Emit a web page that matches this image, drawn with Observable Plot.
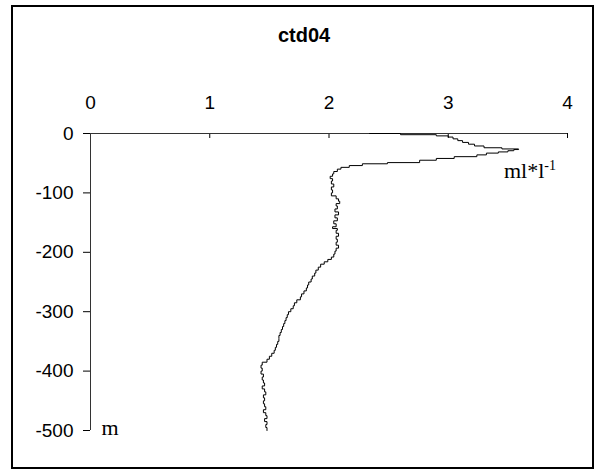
<!DOCTYPE html>
<html>
<head>
<meta charset="utf-8">
<script src="https://cdn.jsdelivr.net/npm/d3@7"></script>
<script src="https://cdn.jsdelivr.net/npm/@observablehq/plot@0.6"></script>
<style>
  html, body { margin: 0; padding: 0; background: #fff; }
  #chart svg { display: block; }
</style>
</head>
<body>
<div id="chart"></div>
<script>
const title = "ctd04";
const xTicks = [0, 1, 2, 3, 4];
const yTicks = [0, -100, -200, -300, -400, -500];
const unitX = "ml*l";
const unitXSup = "-1";
const unitY = "m";

// depth (m, negative downward)
const depth = [0, -2, -4, -6, -9, -12, -15, -18, -21, -24, -26, -27, -29, -31, -33, -36, -39, -42, -45, -49,
  -51, -54, -57, -60, -64, -68, -72, -76, -80, -85, -90, -95, -100, -105, -110, -114, -118, -122, -127, -132,
  -137, -142, -147, -152, -157, -160, -163, -168, -173, -178, -183, -188, -193, -198, -203, -208, -212, -216, -220, -225,
  -230, -235, -240, -245, -250, -255, -260, -265, -270, -275, -280, -285, -290, -295, -300, -305, -310, -315, -320, -325,
  -330, -335, -340, -345, -350, -355, -360, -365, -370, -375, -380, -385, -390, -395, -400, -405, -410, -415, -420, -425,
  -430, -435, -440, -445, -450, -455, -460, -465, -470, -475, -480, -485, -490, -495, -500];
// oxygen (ml*l-1)
const oxygen = [2.34, 2.6, 2.9, 3.00, 3.04, 3.08, 3.12, 3.17, 3.22, 3.30, 3.45, 3.59, 3.55, 3.50, 3.42, 3.32, 3.24, 3.05, 2.90, 2.76,
  2.49, 2.28, 2.17, 2.10, 2.07, 2.04, 2.03, 2.01, 2.03, 2.02, 2.04, 2.02, 2.03, 2.02, 2.06, 2.08, 2.09, 2.06, 2.07, 2.05,
  2.08, 2.05, 2.07, 2.04, 2.06, 2.03, 2.07, 2.06, 2.08, 2.06, 2.07, 2.06, 2.08, 2.06, 2.05, 2.04, 2.02, 1.99, 1.96, 1.93,
  1.91, 1.89, 1.88, 1.86, 1.85, 1.83, 1.82, 1.81, 1.79, 1.77, 1.76, 1.73, 1.71, 1.70, 1.68, 1.66, 1.65, 1.64, 1.63, 1.62,
  1.61, 1.60, 1.59, 1.58, 1.58, 1.57, 1.56, 1.55, 1.54, 1.52, 1.50, 1.48, 1.44, 1.43, 1.44, 1.43, 1.45, 1.44, 1.45, 1.46,
  1.44, 1.46, 1.47, 1.45, 1.46, 1.45, 1.46, 1.47, 1.45, 1.47, 1.48, 1.46, 1.48, 1.47, 1.48];

const data = depth.map((d, i) => ({depth: d, oxygen: oxygen[i]}));
const fmt = d => String(d);

const W = 609, H = 472;
const M = {top: 133, right: 42, bottom: 42, left: 90};
const innerH = H - M.top - M.bottom;
const tickLen = 5;

const chart = Plot.plot({
  width: W,
  height: H,
  marginLeft: M.left,
  marginRight: M.right,
  marginTop: M.top,
  marginBottom: M.bottom,
  style: {fontFamily: "'Liberation Sans', Arial, sans-serif", fontSize: "19px", color: "#000", background: "#fff"},
  x: {domain: [0, 4]},
  y: {domain: [-500, 0]},
  marks: [
    Plot.axisX(xTicks, {anchor: "top", tickSize: 0, tickPadding: 25, label: null, fontSize: 19, tickFormat: fmt}),
    Plot.tickX(xTicks, {x: d => d, insetBottom: innerH - tickLen, stroke: "#000", strokeWidth: 1}),
    Plot.axisY(yTicks, {anchor: "left", tickSize: 7, tickPadding: 10, label: null, fontSize: 19, stroke: "#000", tickFormat: fmt}),
    Plot.ruleX([0], {stroke: "#333", strokeWidth: 1}),
    Plot.ruleY([0], {stroke: "#333", strokeWidth: 1}),
    Plot.line(data, {x: "oxygen", y: "depth", curve: "step-after", stroke: "#000", strokeWidth: 1})
  ]
});

const svg = d3.select(chart);
// outer chart border
svg.append("rect")
  .attr("x", 12).attr("y", 6).attr("width", 581).attr("height", 462)
  .attr("fill", "none").attr("stroke", "#000").attr("stroke-width", 2);
// title
svg.append("text")
  .attr("x", 304).attr("y", 42)
  .attr("text-anchor", "middle")
  .style("font-family", "'Liberation Sans', Arial, sans-serif")
  .style("font-weight", "bold").style("font-size", "20px")
  .text(title);
// unit labels
const ux = svg.append("text")
  .attr("x", 530).attr("y", 178)
  .style("font-family", "'Liberation Serif', 'Times New Roman', serif")
  .style("font-size", "22px");
ux.append("tspan").text(unitX);
ux.append("tspan").attr("dy", -8).style("font-size", "14px").text(unitXSup);
svg.append("text")
  .attr("x", 110).attr("y", 435)
  .style("font-family", "'Liberation Serif', 'Times New Roman', serif")
  .style("font-size", "22px")
  .text(unitY);

document.getElementById("chart").appendChild(chart);
</script>
</body>
</html>
